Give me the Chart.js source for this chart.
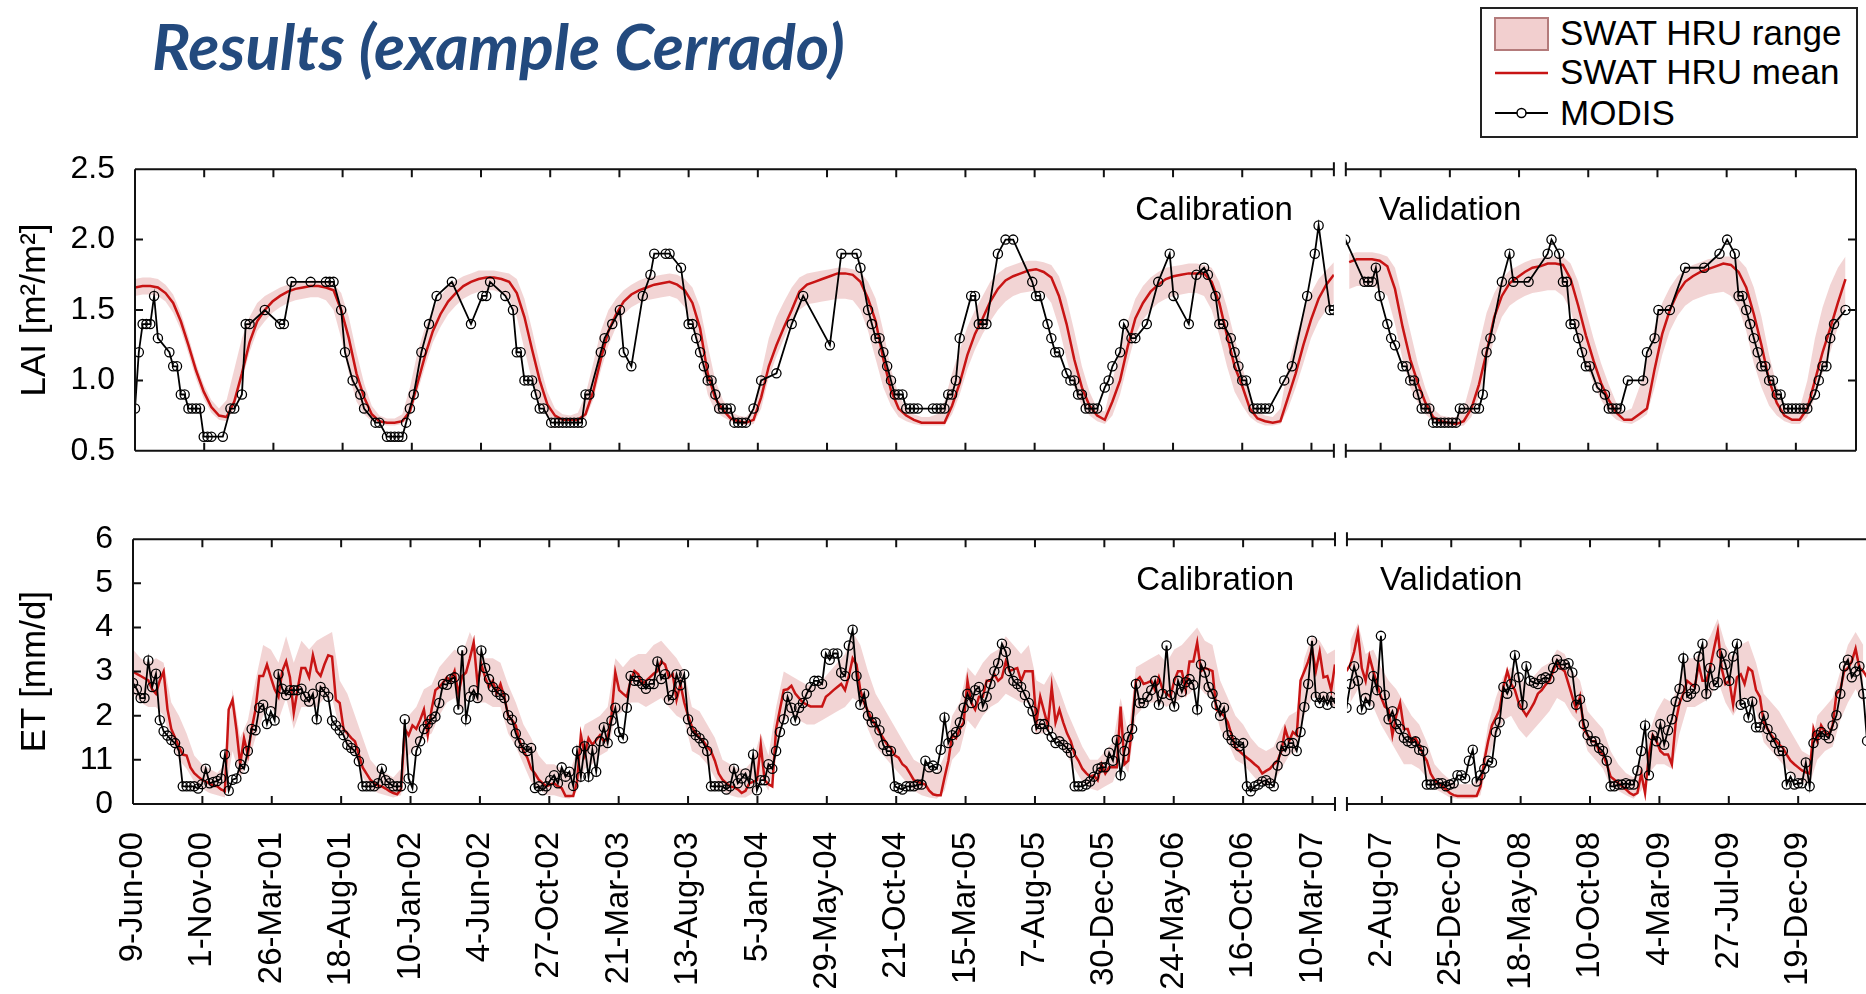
<!DOCTYPE html>
<html>
<head>
<meta charset="utf-8">
<title>Results (example Cerrado)</title>
<script src="https://cdn.jsdelivr.net/npm/chart.js"></script>
<style>
    body {
        margin: 0;
        width: 1866px;
        height: 994px;
        overflow: hidden;
        background: #fff;
        position: relative;
        font-family: "Liberation Sans", Arial, sans-serif;
    }

    h1 {
        position: absolute;
        left: 152px;
        top: 14px;
        margin: 0;
        font: italic 700 64px Lato, sans-serif;
        line-height: 1;
        color: #234a7e;
    }

    /* legend box, top right */
    .legend {
        position: absolute;
        left: 1480px;
        top: 7px;
        width: 374px;
        height: 127px;
        border: 2px solid #222;
        background: #fff;
    }

    .legend svg {
        position: absolute;
        left: 10px;
        top: 0;
    }

    .row {
        position: absolute;
        left: 78px;
        height: 40px;
        line-height: 40px;
        font-size: 35px;
        color: #000;
        white-space: nowrap;
    }

    .panel {
        position: absolute;
        left: 0;
    }
</style>
</head>

<body>
    <h1>Results (example Cerrado)</h1>

    <div class="legend">
        <svg width="70" height="125">
            <rect x="3" y="9" width="53" height="32" fill="#f2cfcf" stroke="#b47b7b" stroke-width="2"></rect>
            <line x1="3" y1="64" x2="56" y2="64" stroke="#c81414" stroke-width="2.5"></line>
            <line x1="3" y1="104" x2="56" y2="104" stroke="#000" stroke-width="2"></line>
            <circle cx="29.5" cy="104" r="4.5" fill="#fff" stroke="#000" stroke-width="1.5"></circle>
        </svg>
        <div class="row" style="top: 4px;">SWAT HRU range</div>
        <div class="row" style="top: 43px;">SWAT HRU mean</div>
        <div class="row" style="top: 84px;">MODIS</div>
    </div>

    <div class="panel" style="top: 130px; width: 1866px; height: 360px;">
        <canvas id="laiChart"></canvas>
    </div>
    <div class="panel" style="top: 500px; width: 1900px; height: 494px;">
        <canvas id="etChart"></canvas>
    </div>

    <script>
        const _ = null;

        // x axis: days since 9-Jun-00, one label every 145 days
        const dateLabels = ['9-Jun-00', '1-Nov-00', '26-Mar-01', '18-Aug-01', '10-Jan-02', '4-Jun-02', '27-Oct-02',
            '21-Mar-03', '13-Aug-03', '5-Jan-04', '29-May-04', '21-Oct-04', '15-Mar-05', '7-Aug-05', '30-Dec-05',
            '24-May-06', '16-Oct-06', '10-Mar-07', '2-Aug-07', '25-Dec-07', '18-May-08', '10-Oct-08', '4-Mar-09',
            '27-Jul-09', '19-Dec-09'];
        const tickDays = 145;
        const breakDays = [2512, 2537];   // gap between calibration and validation
        const modisStep = 8;              // MODIS 8-day composites
        const bandStep = 16;

        const laiTicks = ['0.5', '1.0', '1.5', '2.0', '2.5'];
        const etTicks = ['0', '11', '2', '3', '4', '5', '6'];

        // LAI, MODIS (8-day slots, _ = no value)
        const laiModis = [
            0.8, 1.2, 1.4, 1.4, 1.4, 1.6, 1.3, _, _, 1.2,
            1.1, 1.1, 0.9, 0.9, 0.8, 0.8, 0.8, 0.8, 0.6, 0.6,
            0.6, _, _, 0.6, _, 0.8, 0.8, _, 0.9, 1.4,
            1.4, _, _, _, 1.5, _, _, _, 1.4, 1.4,
            _, 1.7, _, _, _, _, 1.7, _, _, _,
            1.7, 1.7, 1.7, _, 1.5, 1.2, _, 1.0, _, 0.9,
            0.8, _, _, 0.7, 0.7, _, 0.6, 0.6, 0.6, 0.6,
            0.6, 0.7, 0.8, 0.9, _, 1.2, _, 1.4, _, 1.6,
            _, _, _, 1.7, _, _, _, _, 1.4, _,
            _, 1.6, 1.6, 1.7, _, _, _, 1.6, _, 1.5,
            1.2, 1.2, 1.0, 1.0, 1.0, 0.9, 0.8, 0.8, _, 0.7,
            0.7, 0.7, 0.7, 0.7, 0.7, 0.7, 0.7, 0.7, 0.9, 0.9,
            _, _, 1.2, 1.3, _, 1.4, _, 1.5, 1.2, _,
            1.1, _, _, 1.6, _, 1.75, 1.9, _, _, 1.9,
            1.9, _, _, 1.8, _, 1.4, 1.4, 1.3, 1.2, 1.1,
            1.0, 1.0, 0.9, 0.8, 0.8, 0.8, 0.8, 0.7, 0.7, 0.7,
            0.7, _, 0.8, _, 1.0, _, _, _, 1.05, _,
            _, _, 1.4, _, _, 1.6, _, _, _, _,
            _, _, 1.25, _, _, 1.9, _, _, _, 1.9,
            1.8, _, 1.5, 1.4, 1.3, 1.3, 1.2, 1.1, 1.0, 0.9,
            0.9, 0.9, 0.8, 0.8, 0.8, 0.8, _, _, _, 0.8,
            0.8, 0.8, 0.8, 0.9, 0.9, 1.0, 1.3, _, _, 1.6,
            1.6, 1.4, 1.4, 1.4, _, _, 1.9, _, 2.0, _,
            2.0, _, _, _, _, 1.7, 1.6, 1.6, _, 1.4,
            1.3, 1.2, 1.2, _, 1.05, 1.0, 1.0, 0.9, 0.9, 0.8,
            0.8, 0.8, 0.8, _, 0.95, 1.0, 1.1, _, 1.2, 1.4,
            _, 1.3, 1.3, _, _, 1.4, _, _, 1.7, _,
            _, 1.9, 1.6, _, _, _, 1.4, _, 1.75, _,
            1.8, 1.75, _, 1.6, 1.4, 1.4, _, 1.3, 1.2, 1.1,
            1.0, 1.0, _, 0.8, 0.8, 0.8, 0.8, 0.8, _, _,
            _, 1.0, _, 1.1, _, _, _, 1.6, _, 1.9,
            2.1, _, _, 1.5, 1.5, _, _, 2.0, _, _,
            _, _, 1.7, 1.7, 1.7, 1.8, 1.6, _, 1.4, 1.3,
            1.25, _, 1.1, 1.1, 1.0, 1.0, 0.9, 0.8, 0.8, 0.8,
            0.7, 0.7, 0.7, 0.7, 0.7, 0.7, 0.7, 0.8, 0.8, _,
            _, 0.8, 0.8, 0.9, 1.2, 1.3, _, _, 1.7, _,
            1.9, 1.7, _, _, _, 1.7, _, _, _, _,
            1.9, 2.0, _, 1.9, 1.7, 1.7, 1.4, 1.4, 1.3, 1.2,
            1.1, 1.1, _, 0.95, _, 0.9, 0.8, 0.8, 0.8, 0.8,
            _, 1.0, _, _, _, 1.0, 1.2, _, 1.3, 1.5,
            _, _, 1.5, _, _, _, 1.8, _, _, _,
            _, 1.8, _, _, _, 1.9, _, 2.0, _, 1.9,
            1.6, 1.6, 1.5, 1.4, 1.3, 1.2, 1.1, 1.1, 1.0, 1.0,
            0.9, 0.9, 0.8, 0.8, 0.8, 0.8, 0.8, 0.8, 0.8, _,
            0.9, 1.0, 1.1, 1.1, 1.3, 1.4, _, _, 1.5
        ];

        // LAI, SWAT HRU mean / range (16-day steps)
        const laiMean = [
            1.66, 1.67, 1.67, 1.66, 1.62, 1.55, 1.42, 1.25, 1.07, 0.92,
            0.81, 0.75, 0.74, 0.85, 1.05, 1.27, 1.42, 1.5, 1.56, 1.6,
            1.63, 1.65, 1.66, 1.67, 1.67, 1.66, 1.64, 1.5, 1.3, 1.05,
            0.88, 0.76, 0.71, 0.7, 0.7, 0.71, 0.78, 0.98, 1.18, 1.35,
            1.47, 1.56, 1.62, 1.67, 1.7, 1.72, 1.73, 1.73, 1.72, 1.7,
            1.62, 1.45, 1.22, 1.0, 0.83, 0.75, 0.72, 0.72, 0.72, 0.76,
            0.92, 1.15, 1.35, 1.47, 1.56, 1.61, 1.64, 1.66, 1.68, 1.69,
            1.7, 1.68, 1.64, 1.55, 1.37, 1.05, 0.87, 0.79, 0.73, 0.71,
            0.7, 0.72, 0.88, 1.1, 1.25, 1.38, 1.5, 1.63, 1.68, 1.7,
            1.72, 1.74, 1.76, 1.76, 1.75, 1.7, 1.58, 1.42, 1.15, 0.93,
            0.8, 0.75, 0.72, 0.7, 0.7, 0.7, 0.7, 0.82, 0.98, 1.18,
            1.33, 1.44, 1.56, 1.65, 1.71, 1.74, 1.76, 1.78, 1.79, 1.77,
            1.73, 1.6, 1.4, 1.15, 0.95, 0.82, 0.75, 0.72, 0.85, 1.0,
            1.24, 1.44, 1.55, 1.63, 1.68, 1.72, 1.74, 1.75, 1.76, 1.76,
            1.76, 1.7, 1.55, 1.32, 1.1, 0.96, 0.8, 0.73, 0.71, 0.7,
            0.71, 0.88, 1.05, 1.25, 1.43, 1.58, 1.68, 1.75, _, 1.84,
            1.86, 1.86, 1.86, 1.85, 1.81, 1.65, 1.38, 1.15, 0.98, 0.84,
            0.74, 0.71, 0.7, 0.69, 0.71, 0.8, 0.97, 1.2, 1.45, 1.6,
            1.69, 1.73, 1.77, 1.8, 1.81, 1.83, 1.83, 1.82, 1.72, 1.53,
            1.32, 1.14, 0.98, 0.86, 0.77, 0.72, 0.72, 0.76, 0.8, 1.08,
            1.33, 1.5, 1.62, 1.7, 1.74, 1.77, 1.79, 1.81, 1.83, 1.82,
            1.77, 1.66, 1.47, 1.25, 1.0, 0.84, 0.75, 0.72, 0.72, 0.8,
            1.0, 1.2, 1.37, 1.55, 1.72
        ];
        const laiHigh = [
            1.72, 1.73, 1.73, 1.72, 1.68, 1.61, 1.48, 1.31, 1.12, 0.97,
            0.86, 0.8, 0.86, 1.08, 1.3, 1.45, 1.55, 1.6, 1.63, 1.66,
            1.68, 1.7, 1.7, 1.71, 1.71, 1.7, 1.69, 1.62, 1.45, 1.2,
            0.98, 0.82, 0.75, 0.73, 0.73, 0.76, 0.95, 1.2, 1.38, 1.5,
            1.6, 1.67, 1.71, 1.74, 1.76, 1.78, 1.78, 1.78, 1.77, 1.76,
            1.72, 1.58, 1.36, 1.12, 0.92, 0.8, 0.76, 0.75, 0.77, 0.9,
            1.12, 1.35, 1.5, 1.58, 1.64, 1.68, 1.71, 1.73, 1.74, 1.75,
            1.76, 1.75, 1.72, 1.66, 1.52, 1.25, 1.0, 0.86, 0.78, 0.75,
            0.74, 0.8, 1.05, 1.3, 1.45, 1.56, 1.66, 1.73, 1.76, 1.77,
            1.78, 1.79, 1.8, 1.8, 1.79, 1.77, 1.7, 1.58, 1.35, 1.08,
            0.9, 0.8, 0.76, 0.74, 0.74, 0.76, 0.85, 1.05, 1.22, 1.38,
            1.5, 1.6, 1.7, 1.76, 1.8, 1.82, 1.84, 1.85, 1.85, 1.84,
            1.82, 1.74, 1.58, 1.35, 1.1, 0.92, 0.8, 0.78, 1.0, 1.22,
            1.42, 1.58, 1.67, 1.73, 1.77, 1.8, 1.81, 1.82, 1.83, 1.83,
            1.82, 1.8, 1.7, 1.52, 1.3, 1.1, 0.9, 0.78, 0.75, 0.74,
            0.8, 1.1, 1.3, 1.48, 1.62, 1.72, 1.78, 1.84, _, 1.9,
            1.91, 1.91, 1.91, 1.9, 1.88, 1.8, 1.58, 1.35, 1.12, 0.94,
            0.8, 0.75, 0.74, 0.74, 0.8, 1.0, 1.25, 1.48, 1.62, 1.72,
            1.78, 1.81, 1.84, 1.86, 1.87, 1.88, 1.88, 1.88, 1.83, 1.7,
            1.5, 1.3, 1.12, 0.97, 0.84, 0.78, 0.8, 0.95, 1.15, 1.38,
            1.55, 1.66, 1.74, 1.79, 1.82, 1.84, 1.86, 1.87, 1.88, 1.88,
            1.86, 1.8, 1.66, 1.45, 1.18, 0.96, 0.82, 0.77, 0.8, 1.0,
            1.3, 1.52, 1.68, 1.8, 1.88
        ];
        const laiLow = [
            1.6, 1.61, 1.61, 1.6, 1.56, 1.48, 1.36, 1.19, 1.01, 0.87,
            0.77, 0.72, 0.71, 0.8, 1.0, 1.2, 1.35, 1.42, 1.48, 1.52,
            1.55, 1.57, 1.58, 1.59, 1.59, 1.57, 1.5, 1.3, 1.05, 0.85,
            0.76, 0.71, 0.69, 0.68, 0.68, 0.69, 0.74, 0.92, 1.1, 1.27,
            1.38, 1.47, 1.53, 1.58, 1.61, 1.63, 1.64, 1.64, 1.62, 1.58,
            1.45, 1.22, 1.0, 0.84, 0.75, 0.72, 0.7, 0.7, 0.7, 0.73,
            0.86, 1.07, 1.25, 1.38, 1.47, 1.52, 1.55, 1.57, 1.58, 1.59,
            1.6, 1.58, 1.52, 1.4, 1.15, 0.9, 0.78, 0.74, 0.71, 0.69,
            0.68, 0.69, 0.8, 1.02, 1.17, 1.3, 1.42, 1.5, 1.54, 1.55,
            1.56, 1.57, 1.58, 1.58, 1.57, 1.5, 1.35, 1.15, 0.95, 0.82,
            0.74, 0.71, 0.69, 0.68, 0.68, 0.68, 0.68, 0.76, 0.9, 1.08,
            1.22, 1.33, 1.42, 1.5, 1.56, 1.6, 1.62, 1.63, 1.64, 1.62,
            1.55, 1.38, 1.15, 0.95, 0.82, 0.75, 0.71, 0.69, 0.75, 0.9,
            1.12, 1.32, 1.43, 1.5, 1.55, 1.58, 1.6, 1.61, 1.62, 1.62,
            1.6, 1.5, 1.32, 1.1, 0.92, 0.82, 0.74, 0.7, 0.68, 0.68,
            0.69, 0.8, 0.95, 1.12, 1.3, 1.42, 1.5, 1.55, _, 1.65,
            1.67, 1.67, 1.67, 1.65, 1.6, 1.4, 1.15, 0.95, 0.84, 0.76,
            0.71, 0.68, 0.67, 0.67, 0.68, 0.74, 0.88, 1.08, 1.3, 1.45,
            1.53, 1.57, 1.6, 1.62, 1.63, 1.64, 1.64, 1.6, 1.5, 1.3,
            1.12, 0.98, 0.86, 0.77, 0.72, 0.7, 0.69, 0.72, 0.76, 0.95,
            1.18, 1.35, 1.46, 1.53, 1.57, 1.59, 1.61, 1.62, 1.63, 1.6,
            1.52, 1.35, 1.12, 0.95, 0.82, 0.75, 0.71, 0.69, 0.69, 0.74,
            0.88, 1.05, 1.2, 1.38, 1.52
        ];

        // ET, MODIS (8-day slots)
        const etModis = [
            2.74, 2.6, 2.4, 2.4, 3.25, 2.65, 2.95, 1.9, 1.65, 1.55,
            1.45, 1.38, 1.2, 0.4, 0.4, 0.4, 0.4, 0.35, 0.45, 0.8,
            0.47, 0.5, 0.52, 0.58, 1.12, 0.3, 0.55, 0.58, 0.9, 0.8,
            1.2, 1.7, 1.67, 2.18, 2.25, 1.81, 2.1, 1.89, 2.94, 2.61,
            2.47, 2.58, 2.58, 2.58, 2.61, 2.43, 2.32, 2.5, 1.92, 2.65,
            2.54, 2.43, 1.89, 1.78, 1.67, 1.56, 1.34, 1.27, 1.2, 0.97,
            0.4, 0.4, 0.4, 0.4, 0.47, 0.8, 0.54, 0.47, 0.4, 0.4,
            0.4, 1.92, 0.58, 0.36, 1.2, 1.42, 1.7, 1.81, 1.92, 1.98,
            2.29, 2.72, 2.7, 2.83, 2.87, 2.14, 3.48, 1.92, 2.43, 2.58,
            2.4, 3.48, 3.08, 2.83, 2.65, 2.54, 2.47, 2.4, 2.01, 1.91,
            1.6, 1.38, 1.27, 1.2, 1.27, 0.36, 0.4, 0.31, 0.4, 0.54,
            0.65, 0.47, 0.83, 0.62, 0.73, 0.41, 1.2, 0.62, 1.31, 0.62,
            1.23, 0.73, 1.42, 1.74, 1.38, 1.89, 2.18, 1.63, 1.49, 2.18,
            2.9, 2.79, 2.79, 2.72, 2.61, 2.72, 2.72, 3.23, 2.83, 2.94,
            2.36, 2.47, 2.94, 2.69, 2.94, 1.92, 1.65, 1.56, 1.49, 1.38,
            1.2, 0.4, 0.4, 0.4, 0.4, 0.33, 0.4, 0.8, 0.47, 0.58,
            0.69, 0.47, 1.12, 0.31, 0.54, 0.54, 0.9, 0.8, 1.2, 1.63,
            1.92, 2.43, 2.18, 1.89, 2.18, 2.29, 2.5, 2.65, 2.79, 2.79,
            2.72, 3.41, 3.27, 3.41, 3.41, 2.98, 2.9, 3.59, 3.95, 2.9,
            2.25, 2.5, 2.0, 1.85, 1.85, 1.67, 1.34, 1.2, 1.2, 0.4,
            0.36, 0.33, 0.4, 0.4, 0.4, 0.44, 0.44, 0.98, 0.83, 0.87,
            0.8, 1.23, 1.96, 1.38, 1.56, 1.63, 1.85, 2.18, 2.5, 2.29,
            2.58, 2.65, 2.21, 2.43, 2.72, 3.01, 3.19, 3.63, 3.45, 3.01,
            2.79, 2.72, 2.65, 2.47, 2.29, 2.1, 1.7, 1.81, 1.81, 1.67,
            1.52, 1.38, 1.42, 1.34, 1.27, 1.16, 0.4, 0.4, 0.4, 0.44,
            0.51, 0.62, 0.8, 0.83, 0.83, 1.16, 0.98, 1.45, 0.65, 1.2,
            1.52, 1.7, 2.72, 2.29, 2.29, 2.43, 2.58, 2.79, 2.25, 2.5,
            3.59, 2.47, 2.21, 2.79, 2.54, 2.76, 2.83, 2.7, 2.14, 3.16,
            2.98, 2.65, 2.5, 2.25, 2.0, 2.18, 1.56, 1.45, 1.38, 1.31,
            1.38, 0.4, 0.29, 0.4, 0.44, 0.51, 0.54, 0.47, 0.4, 0.87,
            1.31, 1.2, 1.38, 1.38, 1.2, 1.63, 2.2, 2.72, 3.7, 2.43,
            2.29, 2.43, 2.25, 2.43, 2.29, _, _, 2.18, 2.72, 3.12,
            2.79, 2.14, 2.4, 2.25, 2.9, 2.58, 3.81, 2.47, 1.92, 2.1,
            1.81, 1.7, 1.5, 1.42, 1.38, 1.42, 1.23, 1.2, 0.44, 0.44,
            0.44, 0.47, 0.47, 0.4, 0.44, 0.47, 0.65, 0.65, 0.58, 0.98,
            1.23, 0.51, 0.65, 0.8, 0.98, 0.94, 1.63, 1.85, 2.65, 2.5,
            2.72, 3.37, 2.87, 2.25, 3.12, 2.79, 2.75, 2.72, 2.83, 2.87,
            2.83, 3.08, 3.27, 3.16, 3.16, 3.19, 2.98, 2.25, 2.37, 1.81,
            1.56, 1.42, 1.42, 1.27, 1.2, 0.98, 0.4, 0.4, 0.44, 0.44,
            0.47, 0.44, 0.44, 0.76, 1.2, 1.78, 0.65, 1.56, 1.42, 1.81,
            1.34, 1.67, 1.92, 2.32, 2.61, 3.3, 2.43, 2.5, 2.61, 3.34,
            3.63, 2.5, 3.08, 2.69, 2.76, 3.41, 3.16, 2.79, 3.34, 3.63,
            2.25, 2.29, 1.96, 2.32, 1.74, 1.74, 2.0, 1.7, 1.52, 1.38,
            1.2, 1.2, 0.44, 0.62, 0.44, 0.47, 0.47, 0.94, 0.4, 1.38,
            1.56, 1.63, 1.56, 1.49, 1.78, 2.01, 2.5, 3.12, 3.27, 2.87,
            3.0, 3.12, 2.5, 1.43
        ];

        // ET, SWAT HRU mean (8-day steps)
        const etMean = [
            3.0, 2.95, 2.9, 2.85, 2.8, 2.6, 2.5, 2.8, 3.0, 2.15,
            1.7, 1.5, 1.3, 1.12, 1.1, 0.83, 0.7, 0.62, 0.55, 0.51,
            0.46, 0.42, 0.4, 0.33, 0.29, 2.14, 2.36, 1.7, 0.9, 1.49,
            1.12, 1.7, 2.14, 2.9, 2.9, 3.16, 2.87, 2.6, 2.43, 3.01,
            3.23, 2.87, 2.07, 2.6, 3.08, 3.08, 2.87, 3.37, 3.01, 2.9,
            3.16, 3.37, 3.34, 2.36, 2.29, 1.7, 1.6, 1.5, 1.42, 1.12,
            0.83, 0.69, 0.55, 0.47, 0.42, 0.4, 0.35, 0.29, 0.25, 0.22,
            0.33, 1.7, 1.56, 1.78, 1.7, 1.9, 2.14, 1.56, 2.14, 2.58,
            2.65, 2.75, 2.87, 2.79, 3.01, 2.5, 2.9, 2.98, 3.3, 3.66,
            2.72, 3.16, 2.87, 2.65, 2.79, 2.5, 2.72, 2.43, 2.0, 1.9,
            1.78, 1.42, 1.2, 1.05, 0.8, 0.69, 0.55, 0.47, 0.4, 0.44,
            0.47, 0.4, 0.36, 0.18, 0.18, 0.18, 0.51, 1.56, 1.12, 1.49,
            1.34, 1.45, 1.56, 1.42, 1.5, 2.0, 2.98, 2.58, 2.5, 2.43,
            2.79, 3.01, 2.94, 2.72, 2.79, 2.87, 2.95, 3.01, 3.23, 3.16,
            2.87, 2.94, 2.36, 2.72, 2.3, 2.0, 1.75, 1.6, 1.5, 1.42,
            1.3, 1.2, 0.98, 0.69, 0.55, 0.47, 0.4, 0.38, 0.33, 0.25,
            0.3, 0.47, 0.5, 0.54, 1.34, 0.54, 0.45, 0.4, 1.7, 2.14,
            2.58, 2.6, 2.68, 2.5, 2.4, 2.3, 2.25, 2.21, 2.21, 2.21,
            2.21, 2.43, 2.5, 2.58, 2.65, 2.72, 2.58, 2.9, 3.3, 3.16,
            2.58, 2.29, 2.1, 1.92, 1.78, 1.63, 1.49, 1.35, 1.27, 1.1,
            1.05, 0.9, 0.83, 0.69, 0.54, 0.5, 0.47, 0.44, 0.3, 0.22,
            0.2, 0.2, 0.6, 0.98, 1.56, 1.49, 1.7, 1.85, 2.79, 2.29,
            2.14, 2.43, 2.43, 2.79, 2.79, 2.94, 2.79, 2.87, 3.23, 3.01,
            3.05, 3.08, 2.79, 3.01, 3.01, 3.01, 1.85, 2.43, 2.1, 1.78,
            2.65, 1.85, 2.14, 1.85, 1.6, 1.42, 1.12, 0.98, 0.8, 0.7,
            0.62, 0.65, 0.54, 0.9, 0.69, 0.83, 0.83, 0.83, 2.21, 0.9,
            0.98, 1.78, 2.79, 2.87, 2.72, 2.75, 2.79, 2.58, 2.87, 2.58,
            2.5, 2.43, 2.79, 3.01, 3.01, 2.58, 3.23, 3.23, 3.66, 3.01,
            3.08, 3.05, 3.01, 2.14, 2.07, 2.0, 1.85, 1.56, 1.27, 1.2,
            1.12, 1.05, 0.98, 0.9, 0.83, 0.69, 0.75, 0.8, 0.9, 0.98,
            1.2, 1.7, 1.42, 1.63, 1.56, 2.8, 3.01, 3.23, 3.52, 3.01,
            3.45, 2.87, 2.9, 2.58, 3.16, _, _, 3.01, 3.16, 3.45,
            3.88, 3.08, 2.79, 3.34, 3.01, 2.72, 2.43, 2.21, 2.14, 1.56,
            2.0, 2.29, 1.7, 1.7, 1.42, 1.49, 1.34, 1.12, 0.98, 0.69,
            0.54, 0.47, 0.4, 0.33, 0.25, 0.2, 0.18, 0.18, 0.18, 0.18,
            0.18, 0.18, 0.4, 0.98, 1.42, 1.78, 1.95, 2.14, 2.65, 3.01,
            2.72, 2.58, 2.29, 2.14, 2.0, 2.14, 2.29, 2.5, 2.58, 2.7,
            2.79, 3.01, 3.23, 3.08, 3.01, 2.72, 2.43, 2.14, 2.43, 1.7,
            1.56, 1.42, 1.42, 1.2, 1.12, 0.9, 0.62, 0.55, 0.47, 0.4,
            0.33, 0.25, 0.2, 0.25, 0.69, 0.25, 1.12, 1.56, 1.42, 1.2,
            1.12, 1.12, 0.9, 1.85, 2.29, 2.5, 2.79, 2.72, 2.65, 3.16,
            2.79, 2.79, 3.08, 3.52, 3.92, 3.08, 2.72, 2.79, 2.25, 2.87,
            2.94, 2.72, 3.08, 3.01, 2.58, 2.43, 1.85, 1.7, 1.56, 1.45,
            1.35, 1.27, 1.12, 0.98, 0.9, 0.83, 0.76, 0.72, 0.69, 1.7,
            1.42, 1.78, 1.63, 1.56, 1.78, 2.5, 2.58, 3.01, 3.08, 3.23,
            3.52, 3.08, 3.01, 2.87
        ];

        // ET, SWAT HRU range (16-day steps)
        const etHigh = [
            3.5, 3.3, 3.2, 3.3, 3.2, 2.3, 2.0, 1.6, 1.1, 0.9,
            0.8, 0.7, 0.9, 2.6, 1.5, 1.9, 2.8, 3.6, 3.5, 3.2,
            3.8, 3.2, 3.7, 3.5, 3.7, 3.8, 3.9, 2.8, 2.5, 2.0,
            1.5, 1.0, 0.8, 0.7, 0.6, 0.8, 2.0, 2.2, 2.6, 2.7,
            3.1, 3.3, 3.5, 3.4, 3.9, 3.5, 3.3, 3.3, 3.2, 2.7,
            2.3, 1.8, 1.5, 1.1, 0.9, 0.9, 0.8, 0.7, 1.2, 1.8,
            1.9, 2.0, 2.2, 3.3, 3.1, 3.3, 3.4, 3.4, 3.6, 3.7,
            3.5, 3.3, 3.0, 2.2, 2.1, 1.8, 1.5, 1.0, 0.9, 0.8,
            0.8, 1.0, 1.6, 1.1, 2.2, 3.0, 2.9, 2.8, 2.7, 2.7,
            2.8, 3.0, 3.2, 3.4, 3.9, 3.6, 3.0, 2.5, 2.2, 1.9,
            1.6, 1.3, 1.0, 0.9, 0.8, 0.7, 1.1, 2.0, 2.3, 3.1,
            2.9, 3.2, 3.4, 3.5, 3.8, 3.6, 3.4, 3.6, 2.8, 2.7,
            3.0, 2.6, 2.1, 1.7, 1.3, 1.0, 1.0, 1.2, 1.4, 2.4,
            1.6, 3.1, 3.2, 3.3, 3.4, 3.2, 3.5, 3.6, 3.8, 4.0,
            3.7, 3.6, 2.8, 2.4, 2.0, 1.8, 1.5, 1.3, 1.2, 1.3,
            1.7, 2.0, 2.1, 3.3, 3.8, 3.7, 3.4, 3.5, _, 3.7,
            4.1, 3.4, 3.5, 3.1, 2.8, 2.6, 2.3, 2.0, 1.8, 1.4,
            0.9, 0.7, 0.55, 0.45, 0.45, 0.45, 0.7, 1.8, 2.4, 2.9,
            3.1, 2.9, 2.7, 2.9, 3.1, 3.2, 3.5, 3.4, 3.0, 2.8,
            2.1, 1.9, 1.7, 1.2, 0.9, 0.7, 0.6, 1.0, 1.6, 2.1,
            2.4, 2.3, 2.8, 3.3, 3.3, 3.5, 3.8, 4.2, 3.6, 3.3,
            3.6, 3.7, 3.2, 2.5, 2.3, 2.1, 1.8, 1.5, 1.2, 1.1,
            2.0, 2.2, 2.4, 3.0, 3.6, 3.9, 3.6
        ];
        const etLow = [
            2.5, 2.3, 2.2, 2.2, 2.0, 1.4, 1.0, 0.8, 0.5, 0.35,
            0.25, 0.2, 0.15, 1.2, 0.6, 0.9, 1.5, 2.0, 2.2, 1.9,
            2.4, 1.7, 2.2, 2.2, 2.2, 2.4, 2.4, 1.7, 1.3, 1.1,
            0.6, 0.35, 0.25, 0.2, 0.15, 0.2, 1.1, 1.3, 1.5, 1.6,
            2.0, 2.3, 2.4, 2.1, 2.5, 2.3, 2.3, 2.2, 2.2, 1.6,
            1.3, 0.9, 0.5, 0.35, 0.2, 0.2, 0.15, 0.12, 0.3, 0.8,
            0.9, 1.1, 1.2, 2.0, 2.1, 2.3, 2.3, 2.2, 2.3, 2.4,
            2.2, 2.0, 1.9, 1.2, 1.1, 0.9, 0.6, 0.3, 0.2, 0.15,
            0.15, 0.25, 0.6, 0.3, 1.2, 1.9, 2.0, 1.9, 1.8, 1.8,
            1.9, 2.0, 2.1, 2.2, 2.4, 2.3, 1.7, 1.3, 1.1, 0.9,
            0.7, 0.5, 0.3, 0.2, 0.15, 0.12, 0.3, 1.0, 1.2, 1.9,
            1.7, 2.0, 2.2, 2.3, 2.5, 2.4, 2.3, 2.3, 1.6, 1.6,
            1.7, 1.4, 1.1, 0.8, 0.5, 0.35, 0.3, 0.4, 0.5, 1.0,
            0.7, 2.0, 2.2, 2.3, 2.3, 2.2, 2.3, 2.4, 2.5, 2.7,
            2.5, 2.4, 1.7, 1.4, 1.0, 0.9, 0.7, 0.5, 0.4, 0.5,
            0.8, 1.1, 1.2, 2.0, 2.4, 2.4, 2.3, 2.2, _, 2.3,
            2.6, 2.3, 2.2, 1.8, 1.5, 1.2, 0.9, 0.9, 0.8, 0.6,
            0.35, 0.25, 0.15, 0.12, 0.12, 0.12, 0.2, 1.0, 1.5, 1.9,
            2.0, 1.7, 1.5, 1.7, 1.9, 2.1, 2.4, 2.3, 2.0, 1.8,
            1.2, 1.0, 0.8, 0.4, 0.3, 0.2, 0.12, 0.3, 0.7, 0.9,
            0.9, 0.8, 1.6, 2.2, 2.2, 2.3, 2.4, 2.8, 2.3, 2.0,
            2.3, 2.4, 2.1, 1.4, 1.2, 1.0, 0.8, 0.6, 0.5, 0.45,
            1.0, 1.2, 1.3, 1.9, 2.3, 2.6, 2.3
        ];

        const RED = '#c81414';
        const BAND = 'rgba(214, 120, 120, 0.32)';

        Chart.defaults.font.family = '"Liberation Sans", Arial, sans-serif';
        Chart.defaults.color = '#000';

        // turn a value list into {x: day, y} points
        function toPoints(values, step) {
            return values.map((v, i) => ({ x: i * step, y: v }));
        }

        // frame, inward ticks, axis break and the period labels
        const framePlugin = {
            id: 'frame',
            afterDatasetsDraw(chart) {
                const ctx = chart.ctx;
                const a = chart.chartArea;
                const xs = chart.scales.x;
                const ys = chart.scales.y;
                const b0 = xs.getPixelForValue(breakDays[0]);
                const b1 = xs.getPixelForValue(breakDays[1]);

                ctx.save();
                ctx.fillStyle = '#fff';
                ctx.fillRect(b0, a.top - 12, b1 - b0, a.bottom - a.top + 24);

                ctx.strokeStyle = '#111';
                ctx.lineWidth = 2;
                ctx.beginPath();
                ctx.moveTo(a.left, a.top); ctx.lineTo(b0, a.top);
                ctx.moveTo(b1, a.top); ctx.lineTo(a.right, a.top);
                ctx.moveTo(a.left, a.bottom); ctx.lineTo(b0, a.bottom);
                ctx.moveTo(b1, a.bottom); ctx.lineTo(a.right, a.bottom);
                ctx.moveTo(a.left, a.top); ctx.lineTo(a.left, a.bottom);
                ctx.moveTo(a.right, a.top); ctx.lineTo(a.right, a.bottom);
                for (const b of [b0, b1]) {
                    ctx.moveTo(b, a.top - 7); ctx.lineTo(b, a.top + 7);
                    ctx.moveTo(b, a.bottom - 7); ctx.lineTo(b, a.bottom + 7);
                }
                xs.ticks.forEach(t => {
                    const p = xs.getPixelForValue(t.value);
                    if (p <= a.left + 2 || p >= a.right - 2 || (p > b0 - 3 && p < b1 + 3)) return;
                    ctx.moveTo(p, a.top); ctx.lineTo(p, a.top + 8);
                    ctx.moveTo(p, a.bottom); ctx.lineTo(p, a.bottom - 8);
                });
                ys.ticks.forEach(t => {
                    const p = ys.getPixelForValue(t.value);
                    if (p <= a.top + 2 || p >= a.bottom - 2) return;
                    ctx.moveTo(a.left, p); ctx.lineTo(a.left + 8, p);
                    ctx.moveTo(a.right, p); ctx.lineTo(a.right - 8, p);
                });
                ctx.stroke();

                ctx.fillStyle = '#000';
                ctx.font = '33px "Liberation Sans", Arial, sans-serif';
                ctx.textBaseline = 'alphabetic';
                ctx.textAlign = 'right';
                ctx.fillText('Calibration', b0 - 41, a.top + 51);
                ctx.textAlign = 'left';
                ctx.fillText('Validation', b1 + 33, a.top + 51);
                ctx.restore();
            }
        };

        function makePanel(id, o) {
            return new Chart(document.getElementById(id), {
                type: 'line',
                data: {
                    datasets: [
                        { data: toPoints(o.low, bandStep), borderWidth: 0, pointRadius: 0, fill: false, order: 4 },
                        { data: toPoints(o.high, bandStep), borderWidth: 0, pointRadius: 0, fill: '-1', backgroundColor: BAND, order: 3 },
                        { data: toPoints(o.mean, o.meanStep), borderColor: RED, borderWidth: 2.5, pointRadius: 0, fill: false, order: 2 },
                        {
                            data: toPoints(o.modis, modisStep).filter(p => p.y !== null),
                            borderColor: '#000', borderWidth: 1.8, fill: false, order: 1,
                            pointRadius: 4.6, pointBorderWidth: 1.3, pointBorderColor: '#000',
                            pointBackgroundColor: 'rgba(255,255,255,0)'
                        }
                    ]
                },
                options: {
                    responsive: true,
                    maintainAspectRatio: false,
                    animation: false,
                    events: [],
                    layout: { padding: { top: o.padTop, right: o.padRight, left: 0, bottom: 0 } },
                    elements: { line: { tension: 0 } },
                    plugins: { legend: { display: false }, tooltip: { enabled: false } },
                    scales: {
                        x: {
                            type: 'linear',
                            min: 0,
                            max: o.maxDay,
                            afterBuildTicks: s => { s.ticks = dateLabels.map((_, k) => ({ value: k * tickDays })); },
                            afterFit: s => { s.height = o.xHeight; },
                            grid: { display: false, drawTicks: false },
                            border: { display: false },
                            ticks: {
                                display: o.showDates,
                                autoSkip: false,
                                minRotation: 90,
                                maxRotation: 90,
                                padding: 28,
                                font: { size: 33 },
                                callback: (v, i) => dateLabels[i]
                            }
                        },
                        y: {
                            min: o.yMin,
                            max: o.yMax,
                            afterFit: s => { s.width = o.left; },
                            grid: { display: false, drawTicks: false },
                            border: { display: false },
                            ticks: {
                                stepSize: o.yStep,
                                padding: 20,
                                font: { size: 32 },
                                callback: (v, i) => o.yLabels[i]
                            },
                            title: {
                                display: true,
                                text: o.title,
                                font: { size: 35 },
                                padding: { top: 14, bottom: 0 }
                            }
                        }
                    }
                },
                plugins: [framePlugin]
            });
        }

        makePanel('laiChart', {
            low: laiLow, high: laiHigh, mean: laiMean, meanStep: bandStep, modis: laiModis,
            yMin: 0.5, yMax: 2.5, yStep: 0.5, yLabels: laiTicks, title: 'LAI [m²/m²]',
            maxDay: 3606, left: 135, padTop: 35, padRight: 10, xHeight: 28, showDates: false
        });

        makePanel('etChart', {
            low: etLow, high: etHigh, mean: etMean, meanStep: modisStep, modis: etModis,
            yMin: 0, yMax: 6, yStep: 1, yLabels: etTicks, title: 'ET [mm/d]',
            maxDay: 3651, left: 133, padTop: 32, padRight: 20, xHeight: 190, showDates: true
        });
    </script>
</body>

</html>
